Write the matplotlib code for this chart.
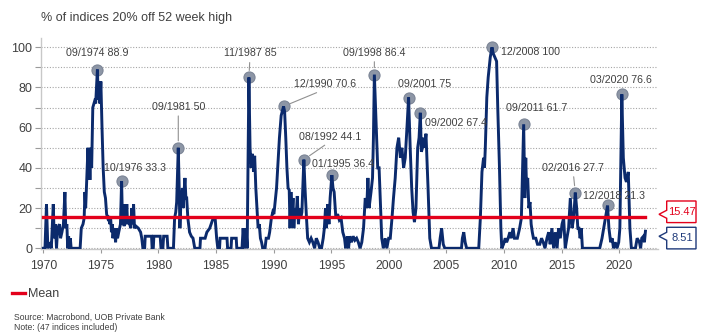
import matplotlib
matplotlib.use("Agg")
import matplotlib.pyplot as plt
import matplotlib.transforms as mtransforms
from matplotlib.patches import Polygon
from matplotlib.lines import Line2D

plt.rcParams['font.family'] = ['Liberation Sans', 'DejaVu Sans']
NARROW = ['Liberation Sans Narrow', 'Liberation Sans', 'DejaVu Sans']

# % of indices 20% below their 52 week high
years = [
    1970.00, 1970.15, 1970.28, 1970.40, 1970.55, 1970.70, 1970.87, 1970.95, 1971.05, 1971.15,
    1971.25, 1971.40, 1971.50, 1971.62, 1971.75, 1971.88, 1971.95, 1972.05, 1972.12, 1972.20,
    1972.28, 1972.35, 1972.42, 1973.20, 1973.30, 1973.45, 1973.55, 1973.62, 1973.68, 1973.78,
    1973.88, 1973.93, 1974.00, 1974.05, 1974.12, 1974.20, 1974.30, 1974.45, 1974.55, 1974.70,
    1974.78, 1974.85, 1974.92, 1975.00, 1975.10, 1975.20, 1975.30, 1975.40, 1975.50, 1975.60,
    1975.70, 1975.78, 1975.85, 1975.92, 1976.00, 1976.05, 1976.12, 1976.20, 1976.28, 1976.35,
    1976.45, 1976.55, 1976.70, 1976.80, 1976.88, 1976.95, 1977.02, 1977.10, 1977.18, 1977.25,
    1977.32, 1977.40, 1977.50, 1977.60, 1977.68, 1977.75, 1977.84, 1977.92, 1978.05, 1978.25,
    1978.45, 1978.55, 1978.65, 1978.80, 1978.85, 1979.40, 1979.45, 1979.55, 1979.60, 1980.15,
    1980.22, 1980.38, 1980.45, 1980.75, 1980.82, 1981.30, 1981.40, 1981.50, 1981.58, 1981.72,
    1981.80, 1981.86, 1981.93, 1982.00, 1982.08, 1982.15, 1982.22, 1982.30, 1982.38, 1982.45,
    1982.55, 1982.70, 1982.85, 1983.00, 1983.15, 1983.60, 1983.65, 1984.05, 1984.20, 1984.45,
    1984.75, 1984.92, 1985.05, 1985.15, 1985.30, 1985.35, 1985.95, 1986.00, 1986.30, 1986.35,
    1986.75, 1986.80, 1987.25, 1987.35, 1987.45, 1987.60, 1987.70, 1987.85, 1987.95, 1988.05,
    1988.15, 1988.25, 1988.35, 1988.45, 1988.55, 1988.65, 1988.75, 1988.85, 1988.95, 1989.05,
    1989.25, 1989.35, 1989.55, 1989.65, 1989.80, 1989.92, 1990.02, 1990.25, 1990.50, 1990.65,
    1990.86, 1990.95, 1991.05, 1991.15, 1991.25, 1991.35, 1991.42, 1991.50, 1991.58, 1991.68,
    1991.75, 1991.85, 1991.95, 1992.05, 1992.15, 1992.25, 1992.35, 1992.45, 1992.62, 1992.72,
    1992.85, 1992.95, 1993.10, 1993.25, 1993.40, 1993.55, 1993.70, 1993.85, 1994.00, 1994.15,
    1994.30, 1994.40, 1994.50, 1994.58, 1994.68, 1994.80, 1994.90, 1995.05, 1995.15, 1995.25,
    1995.40, 1995.55, 1995.70, 1995.85, 1996.00, 1996.15, 1996.25, 1996.40, 1996.50, 1996.60,
    1996.75, 1996.90, 1997.05, 1997.20, 1997.35, 1997.50, 1997.65, 1997.80, 1997.95, 1998.08,
    1998.18, 1998.28, 1998.45, 1998.58, 1998.66, 1998.74, 1998.90, 1999.03, 1999.15, 1999.25,
    1999.38, 1999.52, 1999.68, 1999.82, 1999.98, 2000.12, 2000.27, 2000.40, 2000.55, 2000.70,
    2000.85, 2001.00, 2001.13, 2001.28, 2001.42, 2001.57, 2001.71, 2001.85, 2001.98, 2002.10,
    2002.22, 2002.35, 2002.50, 2002.62, 2002.73, 2002.82, 2002.92, 2003.02, 2003.10, 2003.22,
    2003.40, 2003.55, 2003.70, 2004.35, 2004.45, 2004.58, 2004.72, 2004.85, 2006.30, 2006.38,
    2006.50, 2006.62, 2006.75, 2007.80, 2007.94, 2008.08, 2008.22, 2008.30, 2008.37, 2008.50,
    2008.62, 2008.80, 2008.95, 2009.05, 2009.35, 2009.45, 2009.60, 2009.72, 2009.80, 2009.95,
    2010.10, 2010.22, 2010.35, 2010.50, 2010.62, 2010.78, 2010.90, 2011.15, 2011.35, 2011.50,
    2011.70, 2011.80, 2011.88, 2011.95, 2012.05, 2012.15, 2012.25, 2012.35, 2012.45, 2012.55,
    2012.75, 2012.90, 2013.10, 2013.25, 2013.40, 2013.55, 2013.72, 2013.87, 2014.00, 2014.15,
    2014.30, 2014.45, 2014.60, 2014.73, 2014.88, 2015.03, 2015.17, 2015.31, 2015.45, 2015.60,
    2015.75, 2015.90, 2016.04, 2016.18, 2016.30, 2016.40, 2016.50, 2016.60, 2016.70, 2016.80,
    2018.30, 2018.50, 2018.65, 2018.80, 2018.98, 2019.10, 2019.25, 2019.38, 2019.50, 2019.65,
    2019.80, 2019.95, 2020.05, 2020.22, 2020.35, 2020.50, 2020.62, 2020.78, 2020.92, 2021.05,
    2021.40, 2021.55, 2021.75, 2021.85, 2021.95, 2022.10, 2022.18, 2022.27,
]
share = [
    0, 0, 22, 0, 3, 0, 22, 5, 12, 0,
    10, 12, 5, 8, 12, 28, 10, 12, 0, 6,
    0, 5, 0, 0, 10, 12, 15, 28, 20, 35,
    50, 35, 45, 34, 50, 40, 70, 73, 72, 88.9,
    74, 83, 72, 83, 60, 40, 28, 25, 17, 15,
    16, 12, 15, 8, 12, 5, 10, 8, 3, 10,
    5, 8, 12, 33.3, 12, 22, 11, 20, 12, 22,
    12, 15, 12, 10, 20, 12, 22, 10, 11, 10,
    8, 5, 0, 0, 6, 6, 0, 0, 6, 6,
    0, 0, 6, 6, 0, 0, 15, 18, 23, 50,
    30, 10, 20, 25, 30, 20, 28, 35, 25, 25,
    15, 8, 6, 5, 0, 0, 5, 5, 8, 10,
    15, 15, 5, 0, 0, 5, 5, 0, 0, 5,
    5, 0, 0, 10, 0, 10, 0, 85, 50, 40,
    47, 38, 46, 30, 20, 10, 12, 5, 3, 0,
    0, 5, 5, 8, 15, 18, 17, 30, 55, 66,
    70.6, 68, 55, 40, 30, 29, 10, 28, 15, 25,
    10, 20, 15, 26, 12, 20, 15, 18, 44.1, 30,
    15, 5, 3, 5, 3, 0, 5, 3, 0, 0,
    5, 10, 20, 10, 22, 12, 25, 36.4, 30, 28,
    15, 17, 14, 15, 8, 5, 0, 6, 0, 6,
    3, 6, 4, 5, 3, 0, 3, 10, 25, 20,
    35, 20, 28, 35, 55, 86.4, 60, 40, 40, 25,
    5, 0, 5, 0, 5, 5, 15, 25, 35, 50,
    55, 45, 50, 40, 45, 60, 75, 50, 30, 18,
    13, 20, 50, 55, 67.4, 48, 50, 55, 50, 57,
    30, 5, 0, 0, 5, 10, 2, 0, 0, 5,
    8, 3, 0, 0, 15, 38, 45, 40, 50, 75,
    85, 95, 100, 97, 93, 70, 40, 10, 0, 2,
    5, 3, 5, 8, 5, 10, 5, 5, 10, 15,
    61.7, 25, 45, 30, 35, 20, 23, 12, 8, 5,
    5, 2, 2, 5, 3, 0, 5, 8, 2, 10,
    0, 8, 0, 10, 5, 12, 15, 0, 5, 10,
    25, 10, 15, 27.7, 20, 10, 10, 5, 10, 0,
    0, 5, 10, 15, 21.3, 10, 3, 5, 0, 3,
    0, 3, 10, 76.6, 45, 35, 33, 38, 10, 0,
    0, 5, 3, 0, 5, 6, 3, 8.51,
]
mean_level = 15.47

# labelled peaks: date text and the year of the point in the series
peak_dates = ['09/1974', '10/1976', '09/1981', '11/1987', '12/1990', '08/1992', '01/1995',
              '09/1998', '09/2001', '09/2002', '12/2008', '09/2011', '02/2016', '12/2018',
              '03/2020']
peak_years = [1974.70, 1976.80, 1981.72, 1987.85, 1990.86, 1992.62, 1995.05,
              1998.74, 2001.71, 2002.73, 2008.95, 2011.70, 2016.18, 2018.98,
              2020.22]
# label offsets in pixels (x right, y up) and whether a leader line is drawn
label_dx = [0, 13, 0, 1, 41, 26, 11, 0, 16, 36, 39, 13, -2, 6, -1]
label_dy = [17, 13, 41, 24, 22, 23, 11, 22, 14, -10, -5, 16, 25, 9, 14]
leaders = [False, False, True, True, True, True, False, True, False, False, False, False,
           True, False, False]

NAVY = '#0b2a6c'
RED = '#e3001b'
TXT = '#404040'

fig = plt.figure(figsize=(7.01, 3.34), dpi=100)
ax = fig.add_axes([41.3 / 701, 1 - 249.3 / 334, 616.7 / 701, 211.3 / 334])

ax.plot(years, share, color=NAVY, lw=2.1, zorder=4, solid_joinstyle='miter')
ax.plot([years[0], years[-1]], [mean_level, mean_level], color=RED, lw=2.4, zorder=5)

for date, py, dx, dy, lead in zip(peak_dates, peak_years, label_dx, label_dy, leaders):
    val = share[years.index(py)]
    ax.plot(py, val, 'o', ms=8, mfc='#8d96a6', mec='#7c8596', mew=0.8, zorder=3)
    props = None
    if lead:
        props = dict(arrowstyle='-', color='#909090', lw=0.8, shrinkA=1, shrinkB=5,
                     relpos=(0.5, 0))
    ax.annotate(f'{date} {val:g}', xy=(py, val), xytext=(dx, dy),
                textcoords='offset pixels', ha='center', va='center',
                fontsize=7.7, family=NARROW, color=TXT, arrowprops=props, zorder=6)

ax.set_xlim(1969.83, 2023.36)
ax.set_ylim(-0.5, 104.6)
ax.set_xticks(range(1970, 2021, 5))
ax.set_yticks(range(0, 101, 20))
ax.set_yticks(range(10, 100, 20), minor=True)
ax.grid(axis='y', which='both', color='#a6a6a6', ls=(0, (1, 1.5)), lw=0.8)
ax.set_axisbelow(True)
for side in ['top', 'right']:
    ax.spines[side].set_visible(False)
for side in ['left', 'bottom']:
    ax.spines[side].set_color('#c8c8c8')
    ax.spines[side].set_linewidth(1.0)
ax.tick_params(axis='y', which='both', length=4, width=0.8, color='#9a9a9a', pad=2.4,
               labelsize=9, labelcolor=TXT)
ax.tick_params(axis='x', length=3, width=0.8, color='#9a9a9a', pad=4.5,
               labelsize=8.7, labelcolor=TXT)

# value tags at the right edge: mean and latest reading
tags = [(mean_level, f'{mean_level:.2f}', RED, 5.4, 2.9),
        (share[-1], f'{share[-1]:.2f}', '#1f3a7a', -6.9, -5.1)]
ytrans = ax.get_yaxis_transform()
for yval, label, col, centre, tip in tags:
    x0, y0 = ytrans.transform((1.0, yval))
    x0 += 1
    h = 10.8
    pts = [(0, tip), (7.7, tip + 4), (7.7, centre + h), (37, centre + h),
           (37, centre - h), (7.7, centre - h), (7.7, tip - 4)]
    poly = Polygon([(x0 + px, y0 + py) for px, py in pts], closed=True,
                   transform=mtransforms.IdentityTransform(), facecolor='white',
                   edgecolor=col, lw=1.0, clip_on=False, zorder=7)
    fig.add_artist(poly)
    txt = fig.text(x0 + 23, y0 + centre, label, transform=mtransforms.IdentityTransform(),
                   ha='center', va='center', fontsize=8, family=NARROW, color=col)
    txt.set_zorder(8)

fig.text(41 / 701, 1 - 18 / 334, '% of indices 20% off 52 week high', fontsize=9,
         color=TXT, ha='left', va='center')

handle = Line2D([], [], color=RED, lw=2.4)
fig.legend([handle], ['Mean'], loc='center left', bbox_to_anchor=(12 / 701, 1 - 294 / 334),
           frameon=False, fontsize=9, handlelength=1.0, handletextpad=0.3,
           borderpad=0, borderaxespad=0, labelcolor=TXT)

fig.text(14 / 701, 1 - 317 / 334, 'Source: Macrobond, UOB Private Bank', fontsize=6.2,
         color=TXT, ha='left', va='center')
fig.text(14 / 701, 1 - 328 / 334, 'Note: (47 indices included)', fontsize=6.2,
         color=TXT, ha='left', va='center')

fig.savefig('out.png', dpi=100)
